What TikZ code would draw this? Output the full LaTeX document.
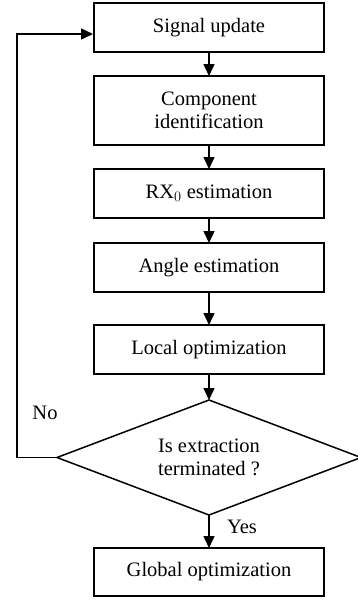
\documentclass[tikz,border=0pt]{standalone}
\usepackage{fontspec}
\setmainfont{Liberation Serif}
\usetikzlibrary{shapes.geometric,arrows.meta,calc}
\begin{document}
\begin{tikzpicture}[x=1pt,y=-1pt,
  box/.style={draw,line width=1.5pt,minimum width=230pt,inner sep=2pt,outer sep=0pt,align=center,font=\fontsize{20.5}{23}\selectfont},
  arr/.style={line width=1.5pt,-{Triangle[length=12pt,width=11pt]}},
  lbl/.style={font=\fontsize{20.5}{23}\selectfont,inner sep=0pt}]
\useasboundingbox (0,0) rectangle (358,600);
\node[box,minimum height=49pt] (sig) at (209,27.5) {Signal update};
\node[box,minimum height=69pt] (comp) at (209,110.5) {Component\\identification};
\node[box,minimum height=49pt] (rx) at (209,193.5) {RX$_0$ estimation};
\node[box,minimum height=49pt] (ang) at (209,267.5) {Angle estimation};
\node[box,minimum height=49pt] (loc) at (209,349.5) {Local optimization};
\node[draw,diamond,line width=1.5pt,aspect=2.64,minimum width=304pt,minimum height=115pt,inner sep=0pt,outer sep=0pt,align=center,font=\fontsize{20.5}{23}\selectfont] (dec) at (209,457.5) {Is extraction\\terminated ?};
\node[box,minimum height=48pt] (glob) at (209,572) {Global optimization};
\coordinate (in) at (93,34);
\draw[arr] (sig) -- (comp);
\draw[arr] (comp) -- (rx);
\draw[arr] (rx) -- (ang);
\draw[arr] (ang) -- (loc);
\draw[arr] (loc) -- (dec);
\draw[arr] (dec) -- (glob);
\draw[arr] (dec.west) -- ++(-40,0) |- (in);
\node[lbl] (no) at (45,413) {No};
\node[lbl] (yes) at (242,527) {Yes};
\end{tikzpicture}
\end{document}
